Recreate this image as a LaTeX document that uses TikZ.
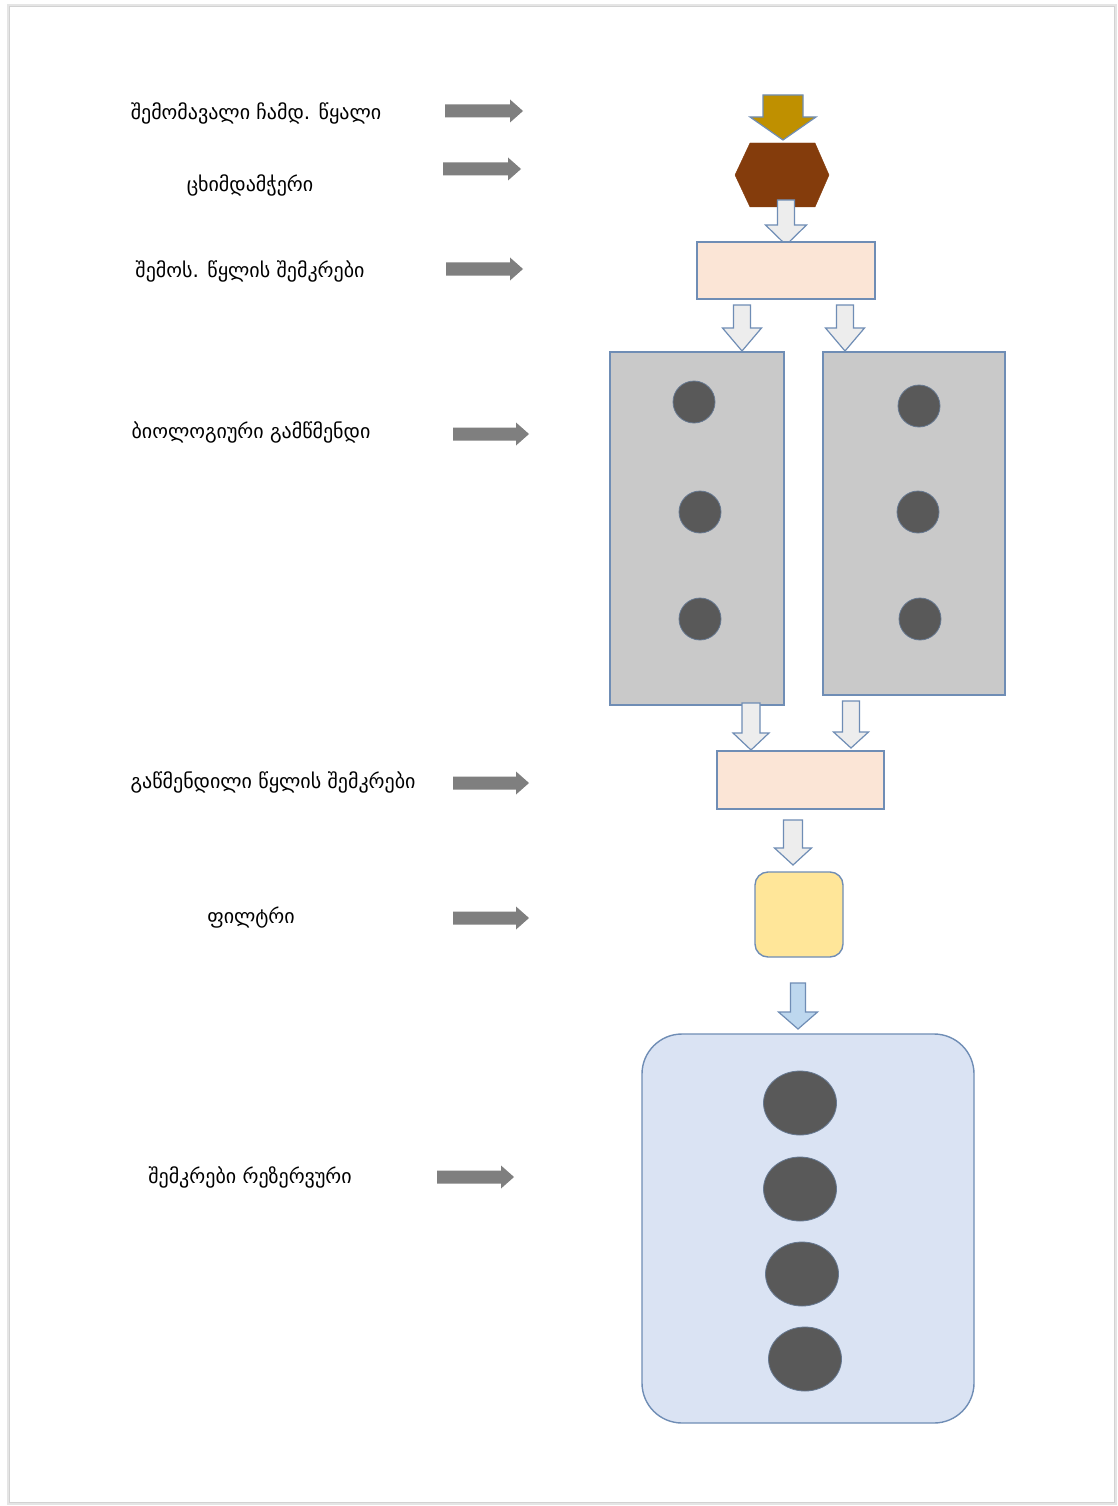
\documentclass[tikz,border=0pt]{standalone}
\usepackage{fontspec}
\newfontfamily\geofont[Script=Georgian]{DejaVu Sans}
\definecolor{bord}{HTML}{6F8DB5}
\definecolor{peach}{HTML}{FBE5D6}
\definecolor{boxgray}{HTML}{C9C9C9}
\definecolor{dotgray}{HTML}{595959}
\definecolor{filtery}{HTML}{FFE699}
\definecolor{tankblue}{HTML}{DAE3F3}
\definecolor{arrblue}{HTML}{BDD7EE}
\definecolor{arrwhite}{HTML}{EDEDED}
\definecolor{hexbrown}{HTML}{843C0C}
\definecolor{gold}{HTML}{BF9000}
\definecolor{sidegray}{HTML}{7F7F7F}
\tikzset{
  lbl/.style={font=\geofont\fontsize{20}{24}\selectfont, text=black, inner sep=0pt},
  sidearrow/.style={fill=sidegray},
  whitearr/.style={fill=arrwhite, draw=bord, line width=1.2pt, line join=miter},
  goldarr/.style={fill=gold, draw=bord, line width=1.2pt},
  bluearr/.style={fill=arrblue, draw=bord, line width=1.2pt},
  peachbox/.style={rectangle, fill=peach, draw=bord, line width=1.4pt, inner sep=0pt},
  graybox/.style={rectangle, fill=boxgray, draw=bord, line width=1.4pt, inner sep=0pt},
  dot/.style={circle, fill=dotgray, draw=bord!60!dotgray, line width=0.8pt, minimum size=42pt, inner sep=0pt},
  bigdot/.style={ellipse, fill=dotgray, draw=bord!60!dotgray, line width=0.8pt, minimum width=73pt, minimum height=64pt, inner sep=0pt},
}
\usetikzlibrary{shapes.geometric}
% down block arrow: style, cx, ytop, shaft width, head width, y head start, y tip
\newcommand\darrow[7]{%
  \draw[#1] ({#2-#4/2},#3) -- ({#2+#4/2},#3) -- ({#2+#4/2},#6) -- ({#2+#5/2},#6)
    -- (#2,#7) -- ({#2-#5/2},#6) -- ({#2-#4/2},#6) -- cycle;}
% right block arrow: x start, x tip, y
\newcommand\rarrow[3]{%
  \fill[sidearrow] (#1,{#3-6.5}) -- ({#2-13},{#3-6.5}) -- ({#2-13},{#3-11.5}) -- (#2,#3)
    -- ({#2-13},{#3+11.5}) -- ({#2-13},{#3+6.5}) -- (#1,{#3+6.5}) -- cycle;}
\begin{document}
\begin{tikzpicture}[x=1pt,y=-1pt]
\useasboundingbox (0,0) rectangle (1118,1506);
\fill[white] (0,0) rectangle (1118,1506);
% page frame
\draw[gray!20, line width=3pt] (8,6) rectangle (1115,1503);
\draw[gray!35, line width=0.8pt] (9,6) rectangle (1114,1502);

% labels
\node[lbl] (l1) at (256,113) {შემომავალი ჩამდ. წყალი};
\node[lbl] (l2) at (250,185) {ცხიმდამჭერი};
\node[lbl] (l3) at (250,271) {შემოს. წყლის შემკრები};
\node[lbl] (l4) at (251,432) {ბიოლოგიური გამწმენდი};
\node[lbl] (l5) at (273,782) {გაწმენდილი წყლის შემკრები};
\node[lbl] (l6) at (251,918) {ფილტრი};
\node[lbl] (l7) at (250,1177) {შემკრები რეზერვური};

% side arrows
\rarrow{445}{523}{111}
\rarrow{443}{521}{169}
\rarrow{446}{523}{269}
\rarrow{453}{529}{434}
\rarrow{453}{529}{783}
\rarrow{453}{529}{918}
\rarrow{437}{514}{1177}

% inflow arrow
\darrow{goldarr}{783}{95}{40}{66}{117}{140}
% grease trap hexagon
\draw[fill=hexbrown, draw=hexbrown] (735,175) -- (750,143) -- (815,143) -- (829,175) -- (815,207) -- (750,207) -- cycle;
\coordinate (hex) at (782,175);
\darrow{whitearr}{786}{200}{17}{41}{225}{245}

% inflow collector
\node[peachbox, minimum width=178pt, minimum height=57pt] (inbox) at (786,270.5) {};
\darrow{whitearr}{742}{305}{17}{39}{328}{351}
\darrow{whitearr}{845}{305}{17}{39}{328}{351}

% biological reactors
\node[graybox, minimum width=174pt, minimum height=353pt] (bioL) at (697,528.5) {};
\node[graybox, minimum width=182pt, minimum height=343pt] (bioR) at (914,523.5) {};
\node[dot] (dl1) at (694,402) {};
\node[dot] (dl2) at (700,512) {};
\node[dot] (dl3) at (700,619) {};
\node[dot] (dr1) at (919,406) {};
\node[dot] (dr2) at (918,512) {};
\node[dot] (dr3) at (920,619) {};

\darrow{whitearr}{751}{703}{18}{36}{733}{750}
\darrow{whitearr}{851}{701}{17}{35}{732}{748}

% treated water collector
\node[peachbox, minimum width=167pt, minimum height=58pt] (outbox) at (800.5,780) {};
\darrow{whitearr}{793}{820}{19}{37}{848}{865}

% filter
\node[rectangle, rounded corners=13pt, fill=filtery, draw=bord, line width=1.4pt, minimum width=88pt, minimum height=85pt, inner sep=0pt] (filter) at (799,914.5) {};
\darrow{bluearr}{798}{983}{15}{39}{1012}{1029}

% reservoir
\node[rectangle, rounded corners=40pt, fill=tankblue, draw=bord, line width=1.4pt, minimum width=332pt, minimum height=389pt, inner sep=0pt] (tank) at (808,1228.5) {};
\node[bigdot] (e1) at (800,1103) {};
\node[bigdot] (e2) at (800,1189) {};
\node[bigdot] (e3) at (802,1274) {};
\node[bigdot] (e4) at (805,1359) {};
\end{tikzpicture}
\end{document}
